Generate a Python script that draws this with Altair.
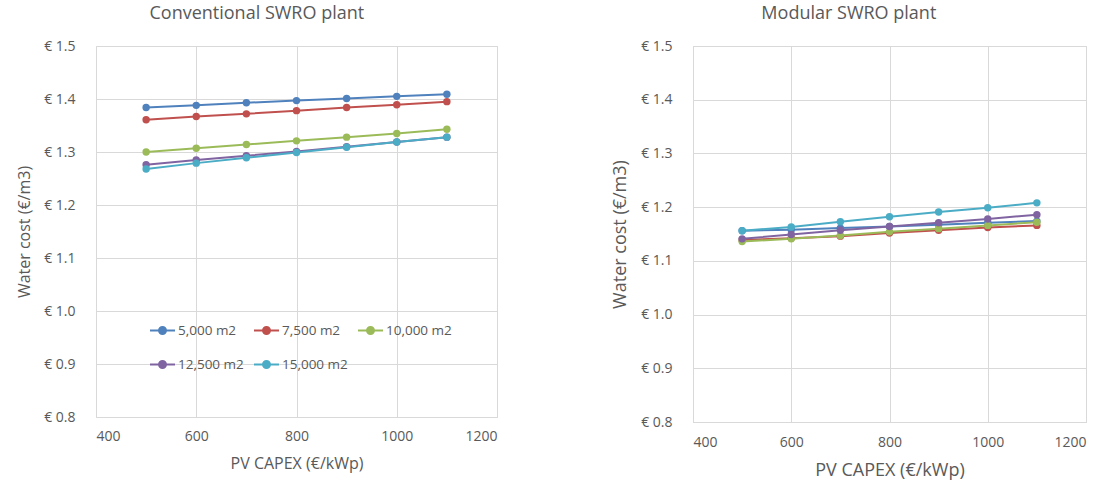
import altair as alt
import pandas as pd

capex = [500, 600, 700, 800, 900, 1000, 1100]
series = ["5,000 m2", "7,500 m2", "10,000 m2", "12,500 m2", "15,000 m2"]
colors = ["#4F81BD", "#C0504D", "#9BBB59", "#8064A2", "#4BACC6"]

conv_5000 = [1.384, 1.388, 1.393, 1.397, 1.401, 1.405, 1.409]
conv_7500 = [1.361, 1.367, 1.372, 1.378, 1.384, 1.389, 1.395]
conv_10000 = [1.300, 1.307, 1.314, 1.321, 1.328, 1.335, 1.343]
conv_12500 = [1.276, 1.285, 1.293, 1.301, 1.310, 1.319, 1.328]
conv_15000 = [1.268, 1.279, 1.289, 1.299, 1.309, 1.319, 1.328]

mod_5000 = [1.156, 1.158, 1.161, 1.164, 1.167, 1.171, 1.174]
mod_7500 = [1.139, 1.142, 1.146, 1.152, 1.157, 1.162, 1.166]
mod_10000 = [1.136, 1.141, 1.147, 1.154, 1.160, 1.166, 1.172]
mod_12500 = [1.141, 1.149, 1.157, 1.164, 1.171, 1.178, 1.186]
mod_15000 = [1.156, 1.163, 1.173, 1.182, 1.191, 1.199, 1.208]

x_ticks = [400, 600, 800, 1000, 1200]
y_ticks = [0.8, 0.9, 1.0, 1.1, 1.2, 1.3, 1.4, 1.5]

def frame(vals_list):
    rows = []
    for name, vals in zip(series, vals_list):
        for x, y in zip(capex, vals):
            rows.append({"capex": x, "cost": y, "series": name})
    return pd.DataFrame(rows)

conv = frame([conv_5000, conv_7500, conv_10000, conv_12500, conv_15000])
mod = frame([mod_5000, mod_7500, mod_10000, mod_12500, mod_15000])

FONT = "Open Sans"
GREY = "#595959"
GRID = "#D9D9D9"

sym_path = "M-1,0L1,0M0.28,0A0.28,0.28,0,1,1,-0.28,0A0.28,0.28,0,1,1,0.28,0Z"

def panel(df, title, w, h, show_legend, title_size, axis_title_size,
          x_label_pad, x_title_pad):
    x = alt.X("capex:Q", scale=alt.Scale(domain=[400, 1200], nice=False),
              axis=alt.Axis(values=x_ticks, format="d", title="PV CAPEX (€/kWp)",
                            labelPadding=x_label_pad, titlePadding=x_title_pad,
                            titleFontSize=axis_title_size))
    y = alt.Y("cost:Q", scale=alt.Scale(domain=[0.8, 1.5], nice=False, zero=False),
              axis=alt.Axis(values=y_ticks,
                            labelExpr="'€ ' + format(datum.value, '.1f')",
                            title="Water cost (€/m3)", labelPadding=21, titlePadding=11,
                            titleFontSize=axis_title_size))
    if show_legend:
        legend = alt.Legend(title=None, orient="none", legendX=53, legendY=271,
                            columns=3, direction="horizontal", symbolType=sym_path,
                            symbolSize=625, symbolStrokeWidth=2, columnPadding=6,
                            rowPadding=13, labelFont=FONT, labelFontSize=13.5,
                            labelColor=GREY, labelOffset=2)
    else:
        legend = None
    color = alt.Color("series:N", sort=series,
                      scale=alt.Scale(domain=series, range=colors), legend=legend)
    return (
        alt.Chart(df)
        .mark_line(strokeWidth=2, point=alt.OverlayMarkDef(filled=True, size=55))
        .encode(x=x, y=y, color=color)
        .properties(width=w, height=h,
                    title=alt.Title(title, fontSize=title_size, font=FONT, color=GREY,
                                    fontWeight="normal", offset=16, frame="bounds"))
    )

left = panel(conv, "Conventional SWRO plant", 401, 371, True, 18, 16, 12, 12)
right = panel(mod, "Modular SWRO plant", 393, 376, False, 18, 18, 13, 12)

chart = (
    alt.hconcat(left, right, spacing=113)
    .resolve_scale(color="independent")
    .properties(padding={"left": 16, "top": 4, "right": 2, "bottom": 2})
    .configure_view(stroke=GRID, strokeWidth=1)
    .configure_axis(grid=True, gridColor=GRID, domain=False, ticks=False,
                    labelFont=FONT, labelFontSize=14, labelColor=GREY,
                    titleFont=FONT, titleColor=GREY, titleFontWeight="normal")
)

chart.save("out.html", embed_options={"renderer": "svg", "actions": False})
